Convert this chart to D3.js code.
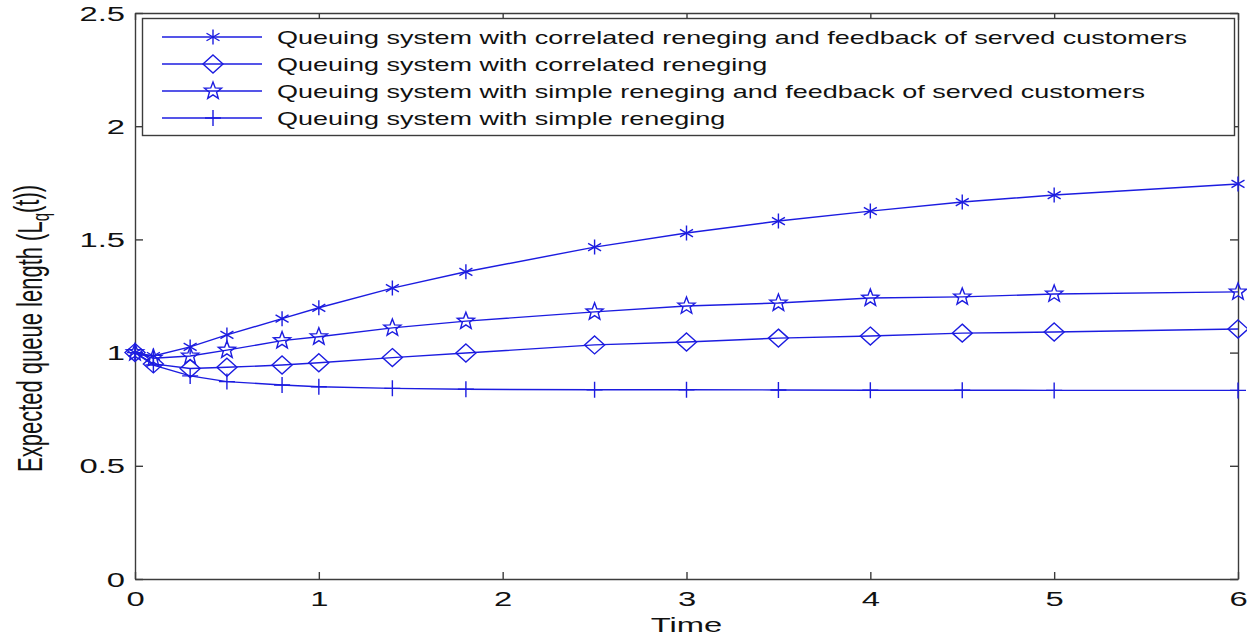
<!DOCTYPE html>
<meta charset="utf-8">
<script src="https://d3js.org/d3.v7.min.js"></script>
<style>
  body { margin: 0; background: #fff; }
  text { font-family: "Liberation Sans", Arial, sans-serif; }
</style>
<div id="chart"></div>
<script>
// data
const times = [0, 0.1, 0.3, 0.5, 0.8, 1, 1.4, 1.8, 2.5, 3, 3.5, 4, 4.5, 5, 6]
const corrFeedback   = [1.0, 0.985, 1.025, 1.078, 1.15, 1.198, 1.285, 1.357, 1.466, 1.528, 1.581, 1.625, 1.665, 1.696, 1.745]
const corrReneging   = [1.0, 0.95, 0.93, 0.935, 0.945, 0.955, 0.978, 0.998, 1.034, 1.047, 1.064, 1.073, 1.086, 1.091, 1.104]
const simpleFeedback = [1.0, 0.975, 0.985, 1.011, 1.053, 1.07, 1.109, 1.139, 1.18, 1.206, 1.219, 1.241, 1.246, 1.259, 1.268]
const simpleReneging = [1.0, 0.945, 0.897, 0.872, 0.857, 0.849, 0.842, 0.838, 0.836, 0.836, 0.835, 0.834, 0.834, 0.833, 0.833]
const seriesNames = [
    "Queuing system with correlated reneging and feedback of served customers",
    "Queuing system with correlated reneging",
    "Queuing system with simple reneging and feedback of served customers",
    "Queuing system with simple reneging"
]
const markerTypes = ["asterisk", "diamond", "star", "plus"]
const xTicks = [0, 1, 2, 3, 4, 5, 6]
const yTicks = [0, 0.5, 1, 1.5, 2, 2.5]

const W = 1247, H = 638
const margin = {top: 13, right: 9, bottom: 59, left: 135}
const width = W - margin.left - margin.right
const height = H - margin.top - margin.bottom

const blue = "#1c1ce0"
const axisColor = "#3c3c3c"
const sx = 1.68   // the figure is stretched sideways

const svg = d3.select("#chart")
    .append("svg")
    .attr("width", W)
    .attr("height", H)
const g = svg.append("g")
    .attr("transform", `translate(${margin.left}, ${margin.top})`)

const x = d3.scaleLinear().domain([0, 6]).range([0, width])
const y = d3.scaleLinear().domain([0, 2.5]).range([height, 0])

// marker shapes, hollow like matlab's
function markerPath(type) {
    const p = d3.path()
    if (type == "asterisk") {
        const r = 7.5
        for (let a of [90, 30, -30]) {
            const t = a * Math.PI / 180
            p.moveTo(-r * Math.cos(t), -r * Math.sin(t))
            p.lineTo(r * Math.cos(t), r * Math.sin(t))
        }
    } else if (type == "diamond") {
        p.moveTo(0, -9); p.lineTo(10, 0); p.lineTo(0, 9); p.lineTo(-10, 0); p.closePath()
    } else if (type == "star") {
        const R = 9, r = 3.8
        for (let i = 0; i < 10; i++) {
            const rad = i % 2 == 0 ? R : r
            const t = -Math.PI / 2 + i * Math.PI / 5
            if (i == 0) p.moveTo(rad * Math.cos(t), rad * Math.sin(t))
            else p.lineTo(rad * Math.cos(t), rad * Math.sin(t))
        }
        p.closePath()
    } else {
        p.moveTo(0, -8); p.lineTo(0, 8)
        p.moveTo(-8, 0); p.lineTo(8, 0)
    }
    return p.toString()
}

// axes: ticks point inward, box all round
const xAxis = g.append("g")
    .attr("transform", `translate(0, ${height})`)
    .call(d3.axisBottom(x).tickValues(xTicks).tickSizeInner(-7).tickSizeOuter(0).tickFormat(d3.format("d")))
const yAxis = g.append("g")
    .call(d3.axisLeft(y).tickValues(yTicks).tickSizeInner(-8).tickSizeOuter(0).tickFormat(d => d))
g.append("g")
    .call(d3.axisTop(x).tickValues(xTicks).tickSizeInner(-7).tickSizeOuter(0).tickFormat(""))
g.append("g")
    .attr("transform", `translate(${width}, 0)`)
    .call(d3.axisRight(y).tickValues(yTicks).tickSizeInner(-8).tickSizeOuter(0).tickFormat(""))

g.selectAll(".domain, .tick line")
    .attr("stroke", axisColor)
    .attr("stroke-width", 1.4)

xAxis.selectAll("text")
    .attr("y", 27).attr("dy", 0)
    .attr("transform", `scale(${sx},1)`)
yAxis.selectAll("text")
    .attr("x", -10 / sx).attr("dy", "0.36em")
    .attr("transform", `scale(${sx},1)`)
g.selectAll(".tick text")
    .attr("fill", "#111")
    .style("font-size", "19.5px")
    .style("font-family", "'Liberation Sans', Arial, sans-serif")

// axis titles
svg.append("text")
    .attr("transform", `translate(${margin.left + x(3)}, 632) scale(${sx},1)`)
    .attr("text-anchor", "middle")
    .style("font-size", "19.5px")
    .attr("fill", "#111")
    .text("Time")

const ylab = svg.append("text")
    .attr("transform", `translate(42, 472) rotate(-90) scale(1,1.6)`)
    .style("font-size", "22px")
    .attr("fill", "#111")
ylab.append("tspan").text("Expected queue length (L")
ylab.append("tspan").attr("dy", "0.3em").style("font-size", "15px").text("q")
ylab.append("tspan").attr("dy", "-0.3em").text("(t))")

// the four series
const allSeries = [corrFeedback, corrReneging, simpleFeedback, simpleReneging]
const line = d3.line()
    .x((d, i) => x(times[i]))
    .y(d => y(d))

allSeries.forEach(function(vals, k) {
    g.append("path")
        .datum(vals)
        .attr("d", line)
        .attr("fill", "none")
        .attr("stroke", blue)
        .attr("stroke-width", 1.4)
    g.append("g")
        .selectAll("path")
        .data(vals)
        .join("path")
            .attr("d", markerPath(markerTypes[k]))
            .attr("transform", (d, i) => `translate(${x(times[i])}, ${y(d)})`)
            .attr("fill", "none")
            .attr("stroke", blue)
            .attr("stroke-width", 1.4)
})

// legend
const legend = svg.append("g")
legend.append("rect")
    .attr("x", 142.5).attr("y", 18.5)
    .attr("width", 1092).attr("height", 117)
    .attr("fill", "white")
    .attr("stroke", axisColor)
    .attr("stroke-width", 1.4)

const rowY = [37, 64, 91, 118]
seriesNames.forEach(function(name, k) {
    legend.append("line")
        .attr("x1", 162).attr("x2", 262)
        .attr("y1", rowY[k]).attr("y2", rowY[k])
        .attr("stroke", blue)
        .attr("stroke-width", 1.4)
    legend.append("path")
        .attr("d", markerPath(markerTypes[k]))
        .attr("transform", `translate(213, ${rowY[k]})`)
        .attr("fill", "none")
        .attr("stroke", blue)
        .attr("stroke-width", 1.4)
    legend.append("text")
        .attr("transform", `translate(277, ${rowY[k] + 7}) scale(1.42,1)`)
        .style("font-size", "19px")
        .attr("fill", "#111")
        .text(name)
})
</script>
